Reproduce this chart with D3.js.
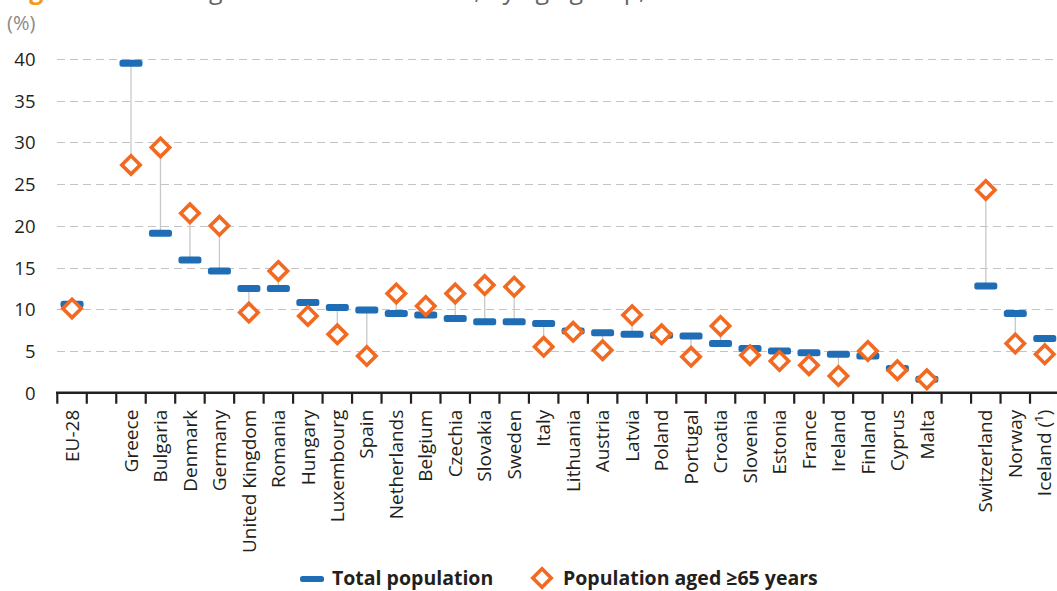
<!DOCTYPE html>
<html>
<head>
<meta charset="utf-8">
<script src="https://cdn.jsdelivr.net/npm/d3@7"></script>
<style>
  html, body { margin: 0; padding: 0; background: #fff; overflow: hidden; }
  svg { display: block; }
  text { font-family: "Open Sans", "Noto Sans", sans-serif; }
</style>
</head>
<body>
<svg id="chart" width="1057" height="591"></svg>
<script>
const categories = ["EU-28", "", "Greece", "Bulgaria", "Denmark", "Germany", "United Kingdom", "Romania",
  "Hungary", "Luxembourg", "Spain", "Netherlands", "Belgium", "Czechia", "Slovakia", "Sweden", "Italy",
  "Lithuania", "Austria", "Latvia", "Poland", "Portugal", "Croatia", "Slovenia", "Estonia", "France",
  "Ireland", "Finland", "Cyprus", "Malta", " ", "Switzerland", "Norway", "Iceland (¹)"];
const totalPopulation = [10.6, null, 39.5, 19.1, 15.9, 14.6, 12.5, 12.5, 10.8, 10.2, 9.9, 9.5, 9.3, 8.9,
  8.5, 8.5, 8.3, 7.4, 7.2, 7.0, 6.9, 6.8, 5.9, 5.3, 5.0, 4.8, 4.6, 4.4, 2.9, 1.6, null, 12.8, 9.5, 6.5];
const aged65 = [10.1, null, 27.3, 29.4, 21.5, 20.0, 9.6, 14.6, 9.2, 7.0, 4.4, 11.9, 10.4, 11.9,
  12.9, 12.7, 5.5, 7.3, 5.1, 9.3, 7.0, 4.3, 8.0, 4.5, 3.8, 3.3, 2.0, 5.0, 2.7, 1.6, null, 24.3, 5.9, 4.6];
const yTicks = [0, 5, 10, 15, 20, 25, 30, 35, 40];
const seriesNames = ["Total population", "Population aged ≥65 years"];

const blue = "#1f6db5";
const orange = "#f26a21";
const textColor = "#231f20";

const svg = d3.select("#chart");

// title (cut off at the top edge in the reference)
svg.append("text").attr("x", 8).attr("y", -1).attr("font-size", 25).attr("font-weight", "bold")
  .attr("fill", "#f39c12").text("Figure 1:");
const probe = svg.append("text").attr("font-size", 25).text("Housin");
const pw = probe.node().getComputedTextLength();
probe.remove();
svg.append("text").attr("x", 210 - pw - 1).attr("y", -1).attr("font-size", 25).attr("fill", "#666")
  .text("Housing cost overburden rate, by age group, 2016");

const x = d3.scaleBand().domain(categories).range([57.3, 1059.5]).paddingInner(0).paddingOuter(0);
const y = d3.scaleLinear().domain([0, 40]).range([392.7, 59]);

// y unit label
svg.append("text").attr("x", 7).attr("y", 30).attr("font-size", 20).attr("fill", "#8a8a8a").text("(%)");

// gridlines
svg.append("g").selectAll("line").data(yTicks.filter(d => d > 0)).join("line")
  .attr("x1", 57).attr("x2", 1057)
  .attr("y1", d => Math.round(y(d)) + 0.5).attr("y2", d => Math.round(y(d)) + 0.5)
  .attr("stroke", "#c4c4c4").attr("stroke-width", 1.2).attr("stroke-dasharray", "8,5");

// y labels
const yAxis = d3.axisLeft(y).tickValues(yTicks).tickSize(0).tickPadding(0);
const gy = svg.append("g").attr("transform", "translate(35.5,0)").call(yAxis);
gy.select(".domain").remove();
gy.selectAll("text").attr("font-size", 18.5).attr("fill", textColor)
  .style("font-family", '"Open Sans", sans-serif').attr("dy", "0.35em");

// connectors
const idx = d3.range(categories.length).filter(i => totalPopulation[i] != null);
svg.append("g").selectAll("line").data(idx).join("line")
  .attr("x1", i => x(categories[i]) + x.bandwidth() / 2)
  .attr("x2", i => x(categories[i]) + x.bandwidth() / 2)
  .attr("y1", i => y(totalPopulation[i]))
  .attr("y2", i => y(aged65[i]))
  .attr("stroke", "#c8c8c8").attr("stroke-width", 1.3);

// x axis
const xAxis = d3.axisBottom(x).tickSize(0).tickFormat(d => d);
const gx = svg.append("g").attr("transform", `translate(0,${y(0)})`).call(xAxis);
gx.select(".domain").remove();
gx.append("line").attr("x1", 56).attr("x2", 1057).attr("y1", 0).attr("y2", 0)
  .attr("stroke", "#231f20").attr("stroke-width", 2.4);
gx.selectAll(".bound").data(categories).join("line").attr("class", "bound")
  .attr("x1", d => x(d)).attr("x2", d => x(d)).attr("y1", 0).attr("y2", 11)
  .attr("stroke", "#231f20").attr("stroke-width", 2.2);
gx.selectAll(".tick text")
  .attr("font-size", 19).attr("fill", textColor)
  .style("font-family", '"Open Sans", sans-serif')
  .attr("text-anchor", "end")
  .attr("transform", "rotate(-90)")
  .attr("x", -17).attr("y", 0).attr("dy", "0.35em");

// total population bars
svg.append("g").selectAll("rect").data(idx).join("rect")
  .attr("x", i => x(categories[i]) + x.bandwidth() / 2 - 11.5)
  .attr("y", i => y(totalPopulation[i]) - 3.5)
  .attr("width", 23).attr("height", 7).attr("rx", 2.5)
  .attr("fill", blue);

// aged 65+ diamonds
svg.append("g").selectAll("rect").data(idx).join("rect")
  .attr("x", -6.5).attr("y", -6.5).attr("width", 13).attr("height", 13)
  .attr("transform", i => `translate(${x(categories[i]) + x.bandwidth() / 2},${y(aged65[i])}) rotate(45)`)
  .attr("fill", "#fff").attr("stroke", orange).attr("stroke-width", 3.6);

// legend
const lg = svg.append("g");
lg.append("rect").attr("x", 300).attr("y", 576).attr("width", 24).attr("height", 6).attr("rx", 2.5).attr("fill", blue);
lg.append("text").attr("x", 332).attr("y", 585).attr("font-size", 19.5).attr("font-weight", "bold")
  .attr("fill", textColor).text(seriesNames[0]);
lg.append("rect").attr("x", -6.5).attr("y", -6.5).attr("width", 13).attr("height", 13)
  .attr("transform", "translate(542,578) rotate(45)")
  .attr("fill", "#fff").attr("stroke", orange).attr("stroke-width", 3.6);
lg.append("text").attr("x", 563).attr("y", 585).attr("font-size", 19.5).attr("font-weight", "bold")
  .attr("fill", textColor).text(seriesNames[1]);
</script>
</body>
</html>
